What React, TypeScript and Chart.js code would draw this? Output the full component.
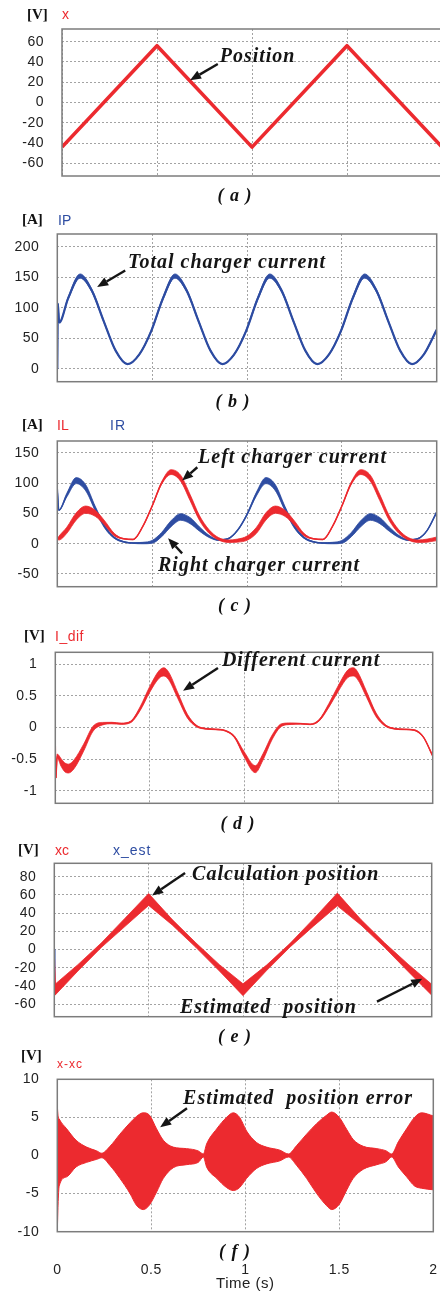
import React, { useEffect, useRef } from "react";
import { Chart, registerables } from "chart.js";

Chart.register(...registerables);

const RED = "#ec2a2f";
const BLUE = "#2e4da2";
const GRID = "#a3a3a3";
const TICK_COLOR = "#222";

const TIME_TICKS = [0, 0.5, 1, 1.5, 2];

// (a) position x
const aTime = [0, 0.5, 1, 1.5, 2];
const aX = [-44, 56, -44, 56, -44];
const aTicks = [-60, -40, -20, 0, 20, 40, 60];

// (b) total charger current IP
const bTime = [0, 0.003, 0.01, 0.0575, 0.12, 0.1825, 0.245, 0.3075, 0.37, 0.4325, 0.495, 0.5575, 0.62, 0.6825, 0.745, 0.8075, 0.87, 0.9325, 0.995, 1.0575, 1.12, 1.1825, 1.245, 1.3075, 1.37, 1.4325, 1.495, 1.5575, 1.62, 1.6825, 1.745, 1.8075, 1.87, 1.9325, 2.0];
const bIP = [0, 107, 76, 116, 152, 128, 78, 30, 8, 24, 62, 116, 152, 128, 78, 30, 8, 24, 62, 116, 152, 128, 78, 30, 8, 24, 62, 116, 152, 128, 78, 30, 8, 24, 64];
const bRipple = [0, 0, 0.5, 2, 3.5, 2.5, 1.5, 1, 0.5, 1, 1.5, 2.5, 3.5, 2.5, 1.5, 1, 0.5, 1, 1.5, 2.5, 3.5, 2.5, 1.5, 1, 0.5, 1, 1.5, 2.5, 3.5, 2.5, 1.5, 1, 0.5, 1, 1.5];
const bTicks = [0, 50, 100, 150, 200];

// (c) left / right charger currents
const cTime = [0, 0.008, 0.05, 0.1, 0.15, 0.2, 0.25, 0.3, 0.35, 0.4, 0.45, 0.5, 0.55, 0.6, 0.65, 0.7, 0.75, 0.8, 0.85, 0.9, 0.95, 1, 1.05, 1.1, 1.15, 1.2, 1.25, 1.3, 1.35, 1.4, 1.45, 1.5, 1.55, 1.6, 1.65, 1.7, 1.75, 1.8, 1.85, 1.9, 1.95, 2];
const cIL = [8, 9, 22, 45, 56, 50, 34, 15, 8, 7, 28, 62, 100, 118, 108, 76, 42, 20, 8, 4, 5, 9, 22, 45, 56, 50, 34, 15, 8, 7, 28, 62, 100, 118, 108, 76, 42, 20, 8, 4, 5, 8];
const cILRipple = [0, 3, 5, 6, 6, 5, 3.5, 2, 0.4, 0.4, 0.4, 0.6, 2, 4, 5, 5, 4, 3, 2, 2, 2.5, 3.5, 5, 6, 6, 5, 3.5, 2, 0.4, 0.4, 0.4, 0.6, 2, 4, 5, 5, 4, 3, 2, 2, 2.5, 3];
const cIR = [90, 55, 80, 104, 92, 58, 28, 10, 3, 1, 1, 3, 15, 33, 44, 38, 24, 12, 6, 8, 22, 48, 82, 104, 92, 58, 28, 10, 3, 1, 1, 3, 15, 33, 44, 38, 24, 12, 6, 8, 22, 52];
const cIRRipple = [0, 0, 3, 5, 5, 3.5, 2.5, 1.2, 0.6, 0.6, 1.2, 2.4, 3.5, 5, 5.5, 5, 3.5, 1.8, 0.6, 0.6, 0.6, 1.2, 3, 5, 5, 3.5, 2.5, 1.2, 0.6, 0.6, 1.2, 2.4, 3.5, 5, 5.5, 5, 3.5, 1.8, 0.6, 0.6, 0.6, 1.2];
const cTicks = [-50, 0, 50, 100, 150];

// (d) different current I_dif
const dTime = [0, 0.003, 0.01, 0.03, 0.05, 0.07, 0.1, 0.15, 0.2, 0.25, 0.3, 0.35, 0.4, 0.45, 0.5, 0.55, 0.575, 0.6, 0.65, 0.7, 0.75, 0.8, 0.85, 0.9, 0.95, 1.0, 1.06, 1.1, 1.15, 1.2, 1.25, 1.3, 1.35, 1.4, 1.45, 1.5, 1.55, 1.58, 1.6, 1.65, 1.7, 1.75, 1.8, 1.85, 1.9, 1.95, 2.0];
const dIdif = [-0.25, -0.8, -0.45, -0.55, -0.63, -0.65, -0.58, -0.32, -0.02, 0.06, 0.07, 0.06, 0.09, 0.3, 0.6, 0.84, 0.88, 0.82, 0.5, 0.18, 0.02, -0.02, -0.03, -0.05, -0.15, -0.42, -0.66, -0.47, -0.15, 0.04, 0.06, 0.06, 0.05, 0.12, 0.35, 0.62, 0.85, 0.88, 0.83, 0.52, 0.2, 0.03, -0.02, -0.03, -0.04, -0.15, -0.45];
const dRipple = [0, 0, 0.03, 0.06, 0.07, 0.07, 0.07, 0.055, 0.04, 0.02, 0.012, 0.01, 0.012, 0.03, 0.045, 0.06, 0.065, 0.06, 0.045, 0.03, 0.012, 0.006, 0.006, 0.006, 0.012, 0.04, 0.055, 0.05, 0.035, 0.02, 0.012, 0.006, 0.006, 0.012, 0.03, 0.045, 0.06, 0.065, 0.06, 0.045, 0.03, 0.012, 0.006, 0.006, 0.006, 0.006, 0.006];
const dTicks = [-1, -0.5, 0, 0.5, 1];

// (e) calculated position xc and estimated position x_est
const eTime = [0, 0.004, 0.125, 0.25, 0.375, 0.5, 0.625, 0.75, 0.875, 1.0, 1.125, 1.25, 1.375, 1.5, 1.625, 1.75, 1.875, 2.0];
const eXc = [-10, -44, -20, 5, 30, 55, 30, 5, -20, -44, -20, 5, 30, 55, 30, 5, -20, -44];
const eXcRipple = [0, 6, 3.5, 2.5, 4.5, 6.5, 3, 2.5, 3.5, 6.5, 3, 2, 4, 7, 3, 2.5, 4, 6];
const eEstTime = [0, 0.003, 0.5, 1, 1.5, 2];
const eXest = [0, -44, 55, -44, 55, -44];
const eTicks = [-60, -40, -20, 0, 20, 40, 60, 80];

// (f) estimated position error envelope
const fTime = [0, 0.004, 0.01, 0.05, 0.1, 0.156, 0.21, 0.236, 0.28, 0.333, 0.387, 0.42, 0.457, 0.49, 0.528, 0.564, 0.617, 0.688, 0.75, 0.777, 0.794, 0.848, 0.9, 0.936, 0.97, 1.007, 1.06, 1.113, 1.184, 1.229, 1.273, 1.326, 1.38, 1.433, 1.46, 1.5, 1.54, 1.574, 1.628, 1.7, 1.75, 1.778, 1.814, 1.858, 1.9, 1.938, 2.0];
const fUpper = [6.5, 5.2, 4.8, 3.5, 2.0, 1.1, 0.6, 0.3, 1.2, 2.8, 4.3, 5.1, 5.6, 5.3, 3.5, 2.0, 1.1, 0.9, 0.6, 0.2, 1.5, 3.5, 5.0, 5.6, 5.0, 3.2, 1.7, 1.1, 0.7, 0.2, 1.3, 2.8, 4.2, 5.3, 5.7, 5.0, 3.4, 2.1, 1.2, 0.9, 0.6, 0.2, 1.8, 3.5, 5.0, 5.6, 5.2];
const fLower = [-10, -6.5, -4.0, -2.8, -1.5, -0.9, -0.5, -0.3, -1.3, -3.0, -5.0, -6.5, -7.1, -6.5, -4.8, -3.0, -1.6, -1.2, -0.9, -0.2, -1.5, -3.0, -4.2, -4.6, -4.2, -3.0, -1.7, -1.1, -0.7, -0.2, -1.3, -3.0, -5.0, -6.6, -7.1, -6.4, -4.5, -3.0, -1.8, -1.2, -0.8, -0.2, -1.5, -2.8, -4.0, -4.3, -4.5];
const fTicks = [-10, -5, 0, 5, 10];

type Note =
  | { kind: "text"; t: number; v: number; text: string }
  | { kind: "arrow"; t1: number; v1: number; t2: number; v2: number };

function pts(time: number[], vals: number[]) {
  return time.map((t, i) => ({ x: t, y: vals[i] }));
}

function lineDs(time: number[], vals: number[], color: string, width: number, smooth: boolean) {
  return {
    data: pts(time, vals),
    borderColor: color,
    backgroundColor: color,
    borderWidth: width,
    pointRadius: 0,
    fill: false,
    tension: 0,
    cubicInterpolationMode: smooth ? "monotone" : "default",
    borderJoinStyle: "round",
    clip: 0,
  };
}

function bandDs(time: number[], mid: number[], ripple: number[], color: string, width: number, smooth: boolean) {
  const hi = mid.map((v, i) => v + ripple[i]);
  const lo = mid.map((v, i) => v - ripple[i]);
  return [
    { ...lineDs(time, hi, color, 0.8, smooth) },
    { ...lineDs(time, lo, color, 0.8, smooth), fill: "-1" },
    lineDs(time, mid, color, width, smooth),
  ];
}

function arrow(ctx: CanvasRenderingContext2D, x1: number, y1: number, x2: number, y2: number) {
  const ang = Math.atan2(y2 - y1, x2 - x1);
  const hl = 11;
  const hw = 4.5;
  const bx = x2 - hl * Math.cos(ang);
  const by = y2 - hl * Math.sin(ang);
  ctx.strokeStyle = "#151515";
  ctx.fillStyle = "#151515";
  ctx.lineWidth = 2.4;
  ctx.beginPath();
  ctx.moveTo(x1, y1);
  ctx.lineTo(bx, by);
  ctx.stroke();
  ctx.beginPath();
  ctx.moveTo(x2, y2);
  ctx.lineTo(bx + hw * Math.sin(ang), by - hw * Math.cos(ang));
  ctx.lineTo(bx - hw * Math.sin(ang), by + hw * Math.cos(ang));
  ctx.closePath();
  ctx.fill();
}

const annotPlugin = {
  id: "annot",
  beforeDraw(chart: any) {
    (chart.ctx as any).letterSpacing = "0.5px";
  },
  afterDatasetsDraw(chart: any, _args: any, opts: any) {
    const { ctx, chartArea: ca, scales } = chart;
    const xs = scales.x;
    const ys = scales.y;
    ctx.save();
    ctx.strokeStyle = "#7c7c7c";
    ctx.lineWidth = 1.5;
    ctx.strokeRect(ca.left, ca.top, ca.right - ca.left, ca.bottom - ca.top);
    const notes: Note[] = (opts && opts.notes) || [];
    for (const n of notes) {
      if (n.kind === "arrow") {
        arrow(ctx, xs.getPixelForValue(n.t1), ys.getPixelForValue(n.v1), xs.getPixelForValue(n.t2), ys.getPixelForValue(n.v2));
      } else {
        ctx.font = 'bold italic 20px "Liberation Serif", "Times New Roman", serif';
        (ctx as any).letterSpacing = "1px";
        ctx.fillStyle = "#151515";
        ctx.textBaseline = "alphabetic";
        ctx.textAlign = "left";
        ctx.fillText(n.text, xs.getPixelForValue(n.t), ys.getPixelForValue(n.v));
      }
    }
    ctx.restore();
  },
};

type PanelCfg = {
  top: number;
  height: number;
  width: number;
  plot: { l: number; r: number; t: number; b: number };
  yMin: number;
  yMax: number;
  yTicks: number[];
  datasets: any[];
  notes: Note[];
  showTime?: boolean;
};

const CLEAR = "rgba(0,0,0,0)";

function Panel({ cfg }: { cfg: PanelCfg }) {
  const ref = useRef<HTMLCanvasElement>(null);
  useEffect(() => {
    if (!ref.current) return;
    const { width, height, top, plot } = cfg;
    const bottomInCanvas = plot.b - top;
    const tickFont = { family: '"Liberation Sans", Arial, sans-serif', size: 14 };
    const chart = new Chart(ref.current, {
      type: "line",
      data: { datasets: cfg.datasets },
      options: {
        responsive: false,
        maintainAspectRatio: false,
        animation: false,
        events: [],
        layout: { padding: { top: plot.t - top, right: width - plot.r, bottom: 0, left: 0 } },
        plugins: {
          legend: { display: false },
          tooltip: { enabled: false },
          annot: { notes: cfg.notes },
        } as any,
        scales: {
          x: {
            type: "linear",
            min: 0,
            max: 2,
            afterBuildTicks: (s: any) => {
              s.ticks = TIME_TICKS.map((v) => ({ value: v }));
            },
            afterFit: (s: any) => {
              s.height = height - bottomInCanvas;
            },
            grid: { color: GRID, lineWidth: 1, drawTicks: !!cfg.showTime, tickLength: 30, tickColor: CLEAR },
            border: { display: false, dash: [2, 2] },
            ticks: {
              display: !!cfg.showTime,
              padding: 0,
              color: TICK_COLOR,
              font: tickFont,
              maxRotation: 0,
              callback: (v: any) => String(v),
            },
            title: {
              display: !!cfg.showTime,
              text: "Time (s)",
              color: TICK_COLOR,
              font: { family: '"Liberation Sans", Arial, sans-serif', size: 15 },
              padding: 0,
            },
          },
          y: {
            type: "linear",
            min: cfg.yMin,
            max: cfg.yMax,
            afterBuildTicks: (s: any) => {
              s.ticks = cfg.yTicks.map((v) => ({ value: v }));
            },
            afterFit: (s: any) => {
              s.width = plot.l;
            },
            grid: { color: GRID, lineWidth: 1, drawTicks: true, tickLength: 18, tickColor: CLEAR },
            border: { display: false, dash: [2, 2] },
            ticks: {
              padding: 0,
              color: TICK_COLOR,
              font: tickFont,
              callback: (v: any) => String(v),
            },
          },
        },
      } as any,
      plugins: [annotPlugin as any],
    });
    return () => chart.destroy();
  }, [cfg]);
  return (
    <canvas
      ref={ref}
      width={cfg.width}
      height={cfg.height}
      style={{ position: "absolute", left: 0, top: cfg.top, width: cfg.width, height: cfg.height }}
    />
  );
}

const SERIF = '"Liberation Serif", "Times New Roman", serif';
const SANS = '"Liberation Sans", Arial, sans-serif';

function Txt(props: {
  x: number;
  base: number;
  size: number;
  serif?: boolean;
  bold?: boolean;
  italic?: boolean;
  color?: string;
  ls?: number;
  center?: boolean;
  children: string;
}) {
  const { x, base, size, serif, bold, italic, color, ls, center, children } = props;
  const asc = serif ? 0.891 : 0.905;
  const desc = serif ? 0.216 : 0.212;
  const top = base - ((size - (asc + desc) * size) / 2 + asc * size);
  return (
    <div
      style={{
        position: "absolute",
        left: x,
        top,
        fontFamily: serif ? SERIF : SANS,
        fontSize: size,
        lineHeight: `${size}px`,
        fontWeight: bold ? "bold" : "normal",
        fontStyle: italic ? "italic" : "normal",
        color: color || "#111",
        letterSpacing: ls || 0,
        whiteSpace: "pre",
        transform: center ? "translateX(-50%)" : undefined,
      }}
    >
      {children}
    </div>
  );
}

const panels: PanelCfg[] = [
  {
    top: 9,
    height: 180,
    width: 444,
    plot: { l: 62, r: 442, t: 29, b: 176 },
    yMin: -72.5,
    yMax: 72.5,
    yTicks: aTicks,
    datasets: [lineDs(aTime, aX, RED, 3.6, false)],
    notes: [
      { kind: "text", t: 0.83, v: 40, text: "Position" },
      { kind: "arrow", t1: 0.82, v1: 38, t2: 0.674, v2: 22 },
    ],
  },
  {
    top: 214,
    height: 180,
    width: 440,
    plot: { l: 57.3, r: 436.7, t: 234, b: 381.7 },
    yMin: -20.8,
    yMax: 220.8,
    yTicks: bTicks,
    datasets: bandDs(bTime, bIP, bRipple, BLUE, 2.2, true),
    notes: [
      { kind: "text", t: 0.373, v: 165.6, text: "Total charger current" },
      { kind: "arrow", t1: 0.358, v1: 161, t2: 0.21, v2: 134 },
    ],
  },
  {
    top: 421,
    height: 180,
    width: 440,
    plot: { l: 57.3, r: 436.7, t: 441, b: 586.7 },
    yMin: -71,
    yMax: 169.3,
    yTicks: cTicks,
    datasets: [...bandDs(cTime, cIL, cILRipple, RED, 1.5, true), ...bandDs(cTime, cIR, cIRRipple, BLUE, 1.5, true)],
    notes: [
      { kind: "text", t: 0.742, v: 133, text: "Left charger current" },
      { kind: "arrow", t1: 0.738, v1: 126, t2: 0.658, v2: 104 },
      { kind: "text", t: 0.531, v: -45, text: "Right charger current" },
      { kind: "arrow", t1: 0.658, v1: -16, t2: 0.584, v2: 9 },
    ],
  },
  {
    top: 632,
    height: 185,
    width: 440,
    plot: { l: 55.3, r: 432.7, t: 652.3, b: 803.3 },
    yMin: -1.2,
    yMax: 1.19,
    yTicks: dTicks,
    datasets: bandDs(dTime, dIdif, dRipple, RED, 1.4, true),
    notes: [
      { kind: "text", t: 0.883, v: 0.98, text: "Different current" },
      { kind: "arrow", t1: 0.862, v1: 0.94, t2: 0.677, v2: 0.58 },
    ],
  },
  {
    top: 843,
    height: 188,
    width: 440,
    plot: { l: 54.3, r: 431.7, t: 863.3, b: 1016.7 },
    yMin: -73.6,
    yMax: 94.7,
    yTicks: eTicks,
    datasets: [...bandDs(eTime, eXc, eXcRipple, RED, 1.5, false), lineDs(eEstTime, eXest, BLUE, 1.3, false)],
    notes: [
      { kind: "text", t: 0.73, v: 76, text: "Calculation position" },
      { kind: "arrow", t1: 0.693, v1: 84, t2: 0.518, v2: 59.5 },
      { kind: "text", t: 0.666, v: -69, text: "Estimated  position" },
      { kind: "arrow", t1: 1.71, v1: -57, t2: 1.95, v2: -32 },
    ],
  },
  {
    top: 1059,
    height: 234,
    width: 440,
    plot: { l: 57.3, r: 433.3, t: 1079.3, b: 1231.7 },
    yMin: -10,
    yMax: 10,
    yTicks: fTicks,
    datasets: [
      { ...lineDs(fTime, fUpper, RED, 1, true) },
      { ...lineDs(fTime, fLower, RED, 1, true), fill: "-1" },
    ],
    notes: [
      { kind: "text", t: 0.669, v: 6.8, text: "Estimated  position error" },
      { kind: "arrow", t1: 0.69, v1: 6.2, t2: 0.547, v2: 3.7 },
    ],
    showTime: true,
  },
];

export default function App() {
  return (
    <div style={{ position: "absolute", left: 0, top: 0, width: 440, height: 1293, overflow: "hidden", background: "#fff" }}>
      {panels.map((p, i) => (
        <Panel key={i} cfg={p} />
      ))}
      {/* (a) */}
      <Txt x={27} base={19.5} size={15} serif bold>[V]</Txt>
      <Txt x={62} base={19} size={14} color={RED}>x</Txt>
      <Txt x={235} base={201} size={18} serif bold italic ls={1} center>( a )</Txt>
      {/* (b) */}
      <Txt x={22} base={224.5} size={15} serif bold>[A]</Txt>
      <Txt x={58} base={224.5} size={14} color={BLUE}>IP</Txt>
      <Txt x={233} base={407.5} size={18} serif bold italic ls={1} center>( b )</Txt>
      {/* (c) */}
      <Txt x={22} base={430} size={15} serif bold>[A]</Txt>
      <Txt x={57} base={430} size={14} color={RED}>IL</Txt>
      <Txt x={110} base={430} size={14} color={BLUE} ls={1}>IR</Txt>
      <Txt x={235} base={611} size={18} serif bold italic ls={1} center>( c )</Txt>
      {/* (d) */}
      <Txt x={24} base={640.5} size={15} serif bold>[V]</Txt>
      <Txt x={55} base={640.5} size={14} color={RED} ls={0.5}>I_dif</Txt>
      <Txt x={238} base={829} size={18} serif bold italic ls={1} center>( d )</Txt>
      {/* (e) */}
      <Txt x={18} base={855} size={15} serif bold>[V]</Txt>
      <Txt x={55} base={855} size={14} color={RED}>xc</Txt>
      <Txt x={113} base={855} size={14} color={BLUE} ls={1}>x_est</Txt>
      <Txt x={235} base={1042} size={18} serif bold italic ls={1} center>( e )</Txt>
      {/* (f) */}
      <Txt x={21} base={1061} size={15} serif bold>[V]</Txt>
      <Txt x={57} base={1068.5} size={12} color={RED} ls={1}>x-xc</Txt>
      <Txt x={235} base={1257} size={18} serif bold italic ls={1} center>( f )</Txt>
    </div>
  );
}
